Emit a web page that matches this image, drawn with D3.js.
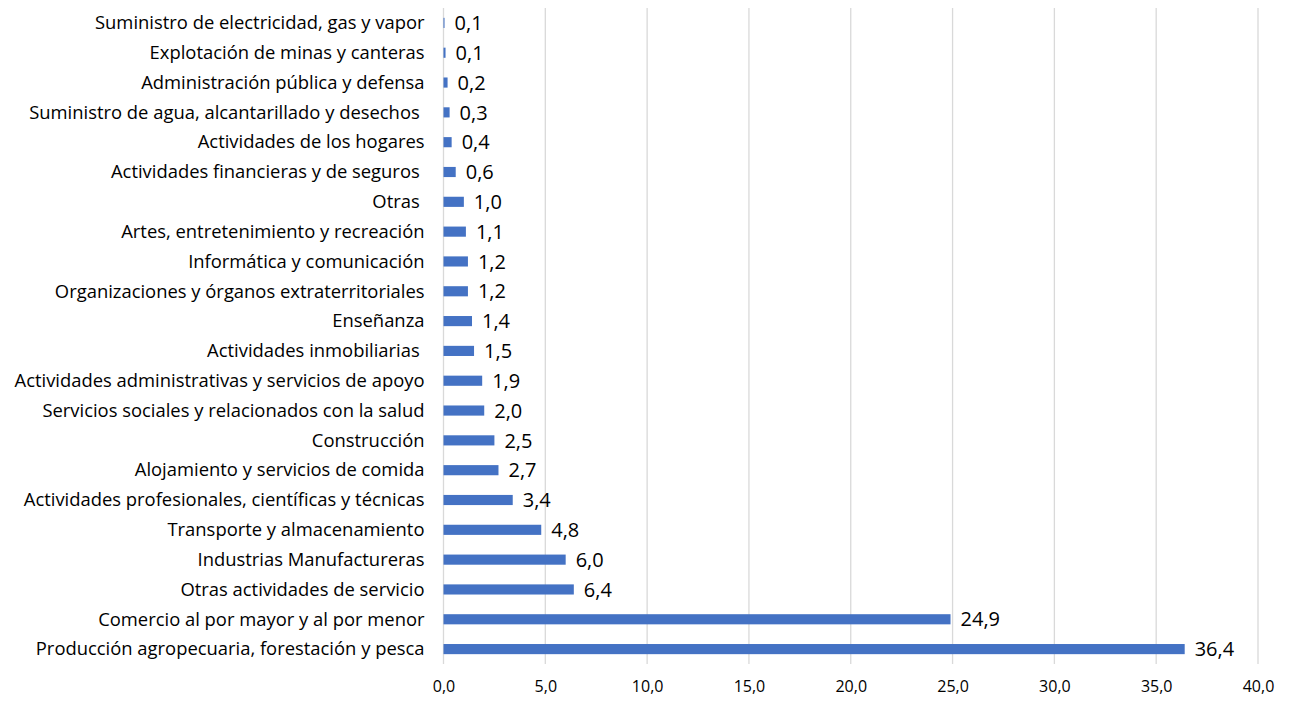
<!DOCTYPE html>
<html>
<head>
<meta charset="utf-8">
<script src="https://cdn.jsdelivr.net/npm/d3@7"></script>
<style>
  body { margin: 0; background: #fff; }
  svg text { font-family: "Open Sans", "Liberation Sans", Arial, sans-serif; fill: #000; white-space: pre; }
</style>
</head>
<body>
<div id="chart"></div>
<script>
// categories, top to bottom
var categories = [
  "Suministro de electricidad, gas y vapor",
  "Explotación de minas y canteras",
  "Administración pública y defensa",
  "Suministro de agua, alcantarillado y desechos ",
  "Actividades de los hogares",
  "Actividades financieras y de seguros ",
  "Otras ",
  "Artes, entretenimiento y recreación",
  "Informática y comunicación",
  "Organizaciones y órganos extraterritoriales",
  "Enseñanza",
  "Actividades inmobiliarias ",
  "Actividades administrativas y servicios de apoyo",
  "Servicios sociales y relacionados con la salud",
  "Construcción",
  "Alojamiento y servicios de comida",
  "Actividades profesionales, científicas y técnicas",
  "Transporte y almacenamiento",
  "Industrias Manufactureras",
  "Otras actividades de servicio",
  "Comercio al por mayor y al por menor",
  "Producción agropecuaria, forestación y pesca"
];
var values = [0.05, 0.1, 0.2, 0.3, 0.4, 0.6, 1.0, 1.1, 1.2, 1.2, 1.4, 1.5, 1.9, 2.0, 2.5, 2.7, 3.4, 4.8, 6.0, 6.4, 24.9, 36.4];
var xTicks = [0, 5, 10, 15, 20, 25, 30, 35, 40];

var data = categories.map(function (c, i) { return {name: c, value: values[i]}; });

var margin = {top: 8, right: 38, bottom: 38, left: 443.5};
var width = 1296 - margin.left - margin.right,
    height = 702 - margin.top - margin.bottom;

var svg = d3.select("#chart").append("svg")
    .attr("width", 1296)
    .attr("height", 702)
    .append("g")
    .attr("transform", "translate(" + margin.left + "," + margin.top + ")");

var comma = function (v) { return d3.format(".1f")(v).replace(".", ","); };

var x = d3.scaleLinear().domain([0, 40]).range([0, width]);
var y = d3.scaleBand()
    .domain(categories)
    .range([0, height])
    .paddingInner(0.66)
    .paddingOuter(0.33);

// vertical gridlines
svg.selectAll(".grid")
    .data(xTicks)
    .enter().append("line")
    .attr("class", "grid")
    .attr("x1", function (d) { return x(d); })
    .attr("x2", function (d) { return x(d); })
    .attr("y1", 0)
    .attr("y2", height)
    .attr("stroke", "#d9d9d9")
    .attr("stroke-width", 1.3);

// bars
svg.selectAll(".bar")
    .data(data)
    .enter().append("rect")
    .attr("class", "bar")
    .attr("x", x(0))
    .attr("y", function (d) { return y(d.name); })
    .attr("width", function (d) { return x(d.value) - x(0); })
    .attr("height", y.bandwidth())
    .attr("fill", "#4472c4");

// value labels
svg.selectAll(".val")
    .data(data)
    .enter().append("text")
    .attr("class", "val")
    .attr("x", function (d) { return x(d.value) + 10; })
    .attr("y", function (d) { return y(d.name) + y.bandwidth() / 2; })
    .attr("dy", "0.36em")
    .style("font-size", "20px")
    .text(function (d) { return comma(d.value); });

// category axis
var yAxis = svg.append("g")
    .call(d3.axisLeft(y).tickSize(0).tickPadding(19));
yAxis.select(".domain").remove();
yAxis.selectAll("text")
    .style("font-size", "18.4px")
    .attr("dy", "0.34em");

// x axis
var xAxis = svg.append("g")
    .attr("transform", "translate(0," + height + ")")
    .call(d3.axisBottom(x).tickValues(xTicks).tickSize(0).tickPadding(17).tickFormat(comma));
xAxis.select(".domain").remove();
xAxis.selectAll("text")
    .style("font-size", "16px");
</script>
</body>
</html>
